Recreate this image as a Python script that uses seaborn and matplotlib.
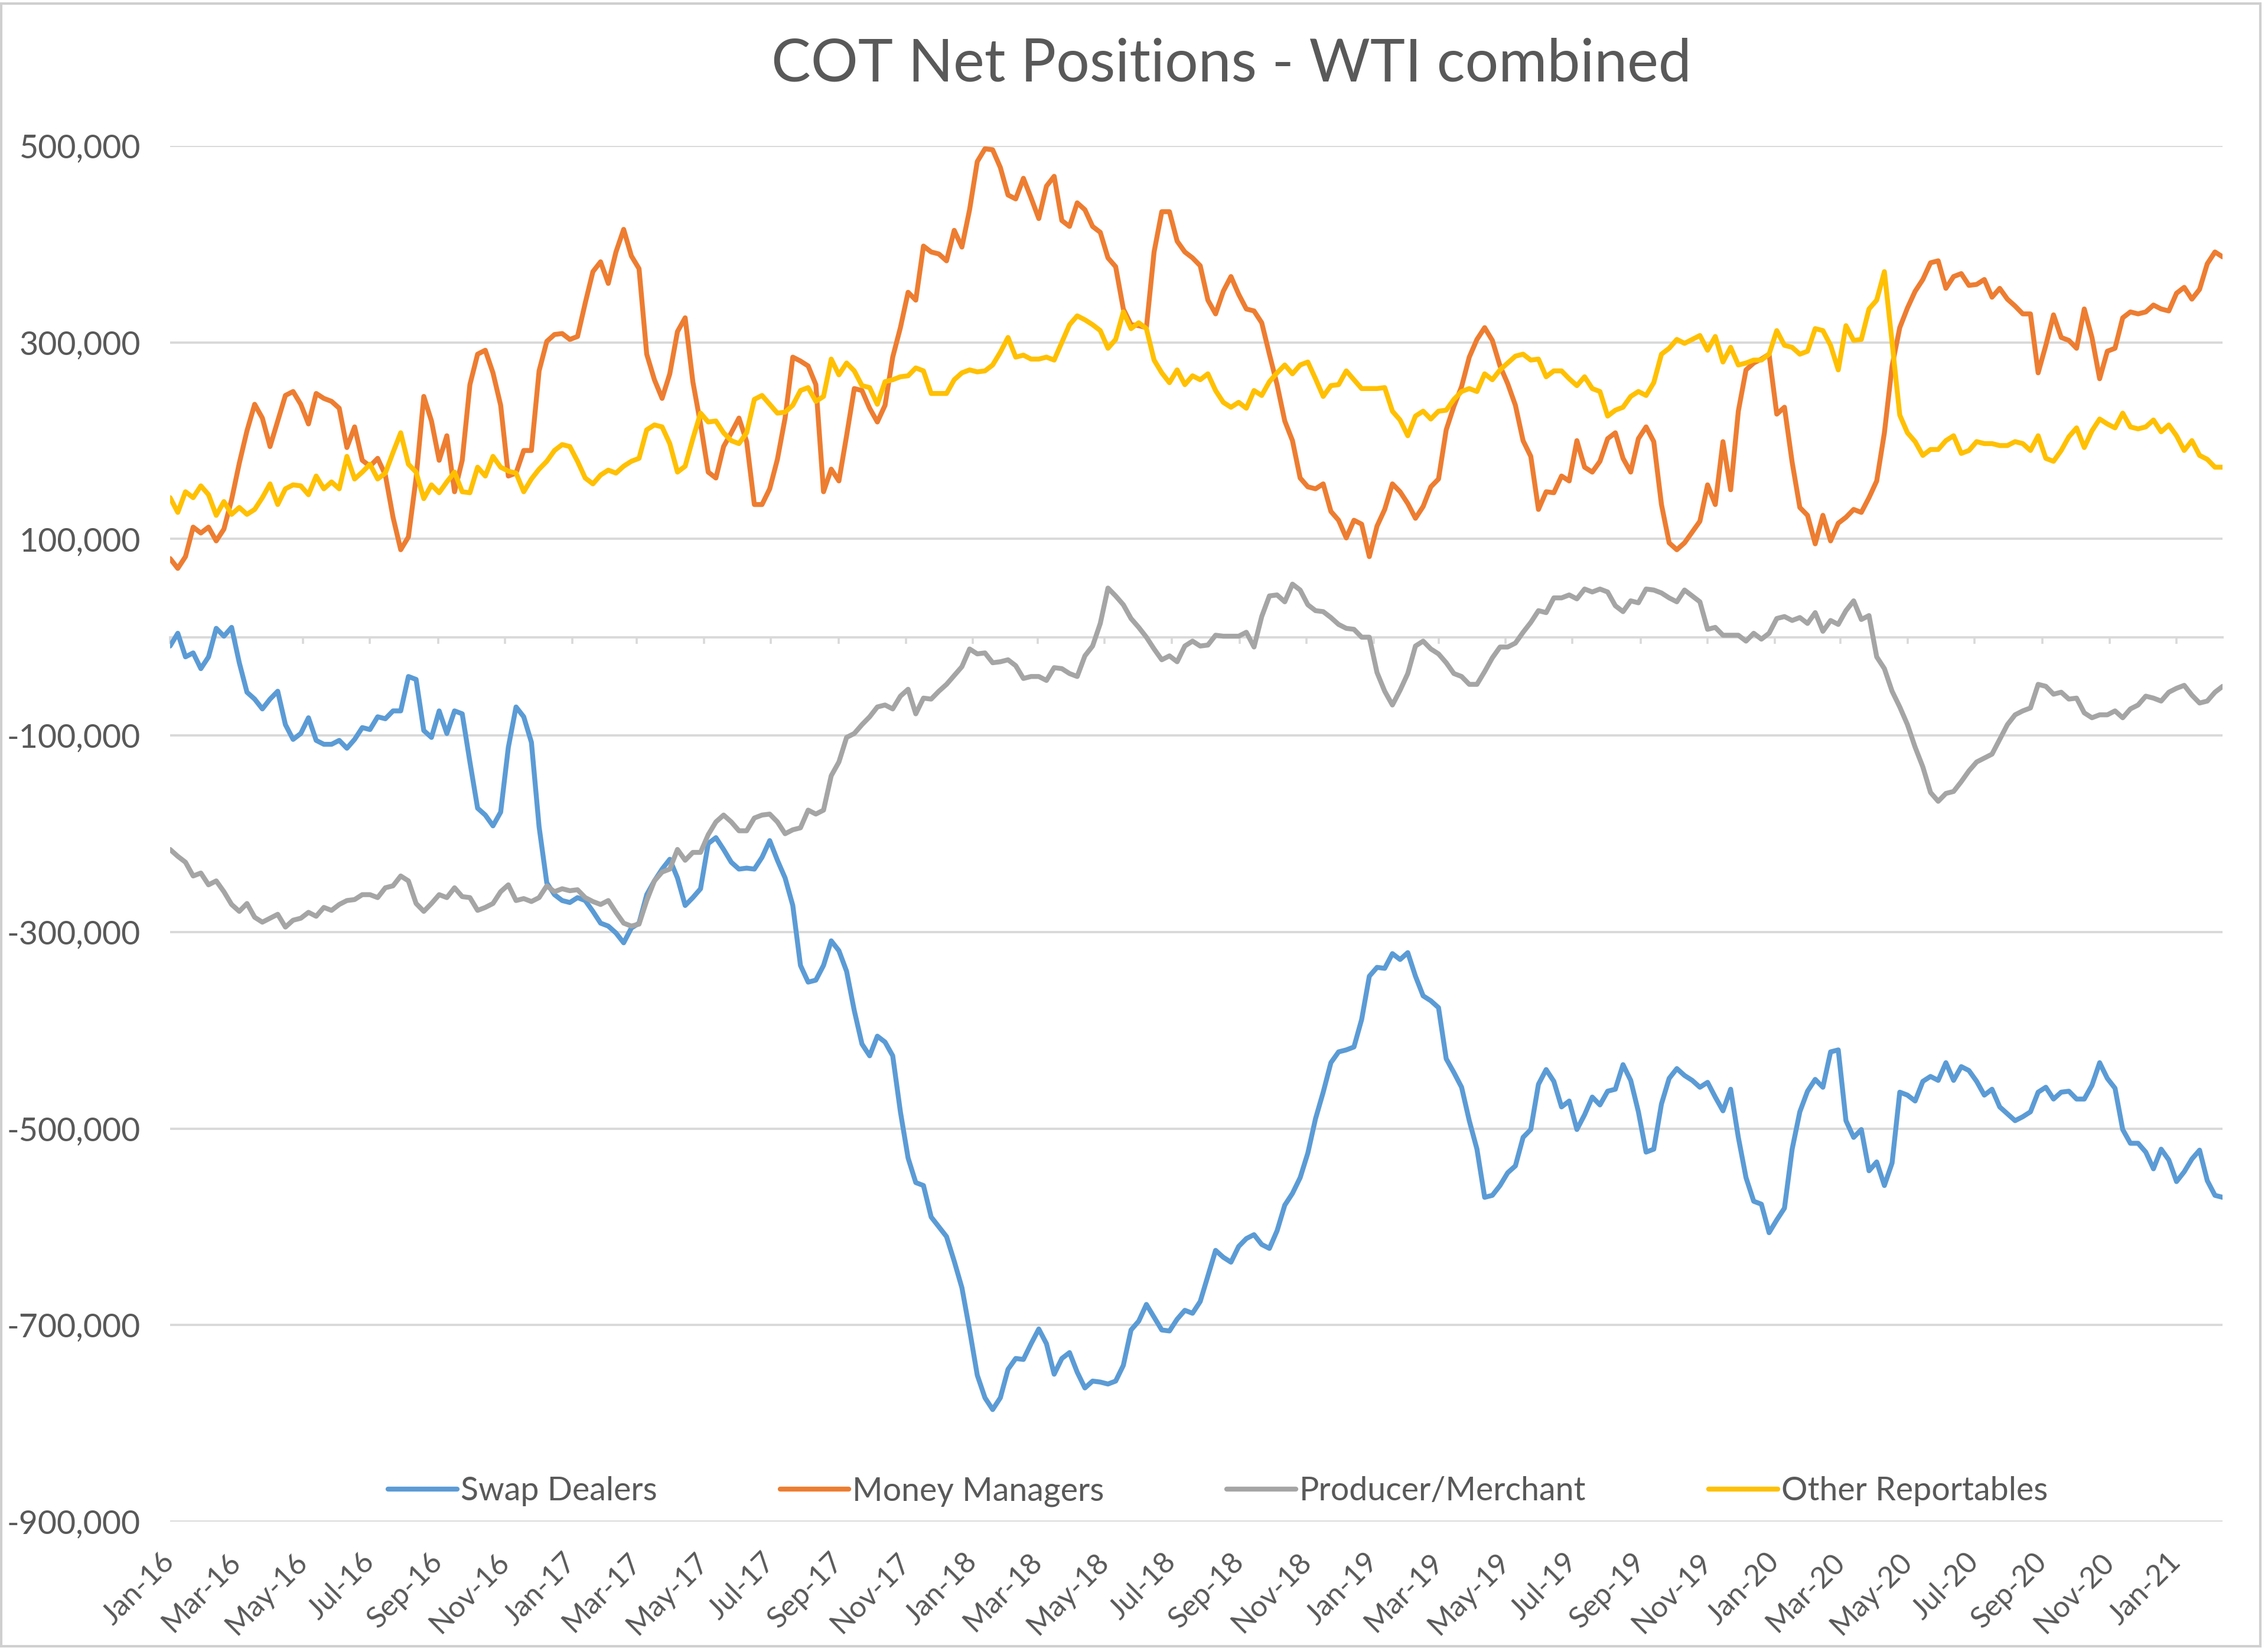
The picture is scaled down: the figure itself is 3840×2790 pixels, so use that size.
import numpy as np
import pandas as pd
import matplotlib
matplotlib.use('Agg')
import matplotlib.pyplot as plt
import matplotlib.dates as mdates
import matplotlib.ticker as mticker
from matplotlib.patches import Rectangle
import seaborn as sns

# ── DATA (weekly COT reports, net positions in thousands of contracts) ──
dates = pd.date_range('2016-01-05', periods=268, freq='7D')

series_names = ['Swap Dealers', 'Money Managers', 'Producer/Merchant', 'Other Reportables']

swap_dealers_k = [
    -9, 4, -20, -16, -32, -20, 9, 1, 10, -26, -56, -63, -73, -63, -55, -89, -104, -98, -82, -105,
    -109, -109, -105, -113, -104, -92, -94, -81, -83, -75, -75, -40, -43, -95, -102, -75, -98, -75, -78, -127,
    -174, -181, -192, -178, -112, -71, -81, -107, -193, -250, -262, -268,
    -270, -265, -268, -279, -291, -294, -301, -311, -296, -291, -262, -248, -236, -226, -245, -273, -265, -256,
    -210, -204, -216, -229, -236, -235, -236, -224, -207, -227, -245, -273, -334, -351, -349, -334, -309, -319,
    -340, -380, -414, -426, -406, -412, -426, -483, -530, -555, -558, -590, -600, -610, -635, -662, -705, -751, -774,
    -786, -774, -745, -734, -735, -719, -704, -719, -750, -734, -728, -748, -764, -757, -758, -760, -757, -741,
    -705, -696, -679, -692, -705, -706, -694, -685, -688, -676, -650, -624, -631, -636, -620, -612, -608, -618,
    -622, -604, -578, -566, -550, -525, -490, -463, -433, -422, -420, -417, -389, -345, -336, -337, -322, -328,
    -321, -345, -365, -370, -377, -429, -443, -458, -492, -521, -570, -568, -558, -545, -538, -509, -501, -455,
    -440, -452, -478, -472, -501, -486, -468, -476, -462, -460, -435, -451, -483, -524, -521, -475, -449, -439,
    -446, -451, -458, -453, -468, -482, -460, -509, -550, -574, -577, -606, -593, -581, -521, -483, -462, -450, -458,
    -422, -420, -492, -509, -501, -543, -534, -558, -535, -463, -466, -472, -452, -447, -451, -433, -451, -437,
    -441, -452, -466, -460, -478, -485, -492, -488, -483, -463, -458, -470, -463, -462, -470, -470, -456, -433,
    -449, -459, -501, -515, -515, -524, -541, -521, -532, -554, -544, -531, -522, -553, -568, -570,
]

money_managers_k = [
    80, 70, 82, 112, 106, 112, 98, 110, 140, 177, 210, 237, 223, 194, 220, 246, 250, 237, 217, 248,
    243, 240, 233, 193, 214, 180, 174, 182, 165, 122, 89, 102, 162, 245, 220, 180, 205, 148, 180, 257,
    288, 292, 269, 236, 164, 167, 190, 190, 271, 301, 308, 309,
    303, 306, 340, 372, 382, 360, 392, 415, 388, 375, 288, 262, 243, 268, 311, 325, 260, 217,
    168, 162, 194, 208, 223, 199, 135, 135, 151, 181, 223, 285, 281, 276, 257, 148, 171, 159,
    205, 253, 251, 233, 219, 236, 285, 315, 351, 343, 398, 392, 390, 383, 414, 397, 435, 484, 497,
    496, 478, 450, 446, 467, 447, 426, 459, 469, 424, 418, 442, 435, 418, 412, 386, 377, 334,
    318, 317, 315, 392, 433, 433, 403, 392, 386, 378, 343, 329, 352, 367, 349, 334, 332, 320,
    288, 257, 220, 200, 162, 153, 151, 156, 128, 119, 101, 119, 115, 82, 113, 130, 156, 148,
    136, 121, 133, 153, 161, 211, 235, 255, 285, 303, 315, 302, 276, 258, 236, 200, 184, 130,
    148, 147, 164, 159, 200, 173, 168, 179, 202, 208, 182, 168, 202, 214, 199, 135, 96, 89,
    96, 107, 118, 155, 135, 199, 150, 230, 272, 279, 283, 288, 227, 234, 178, 132, 124, 95, 124,
    98, 116, 122, 130, 127, 142, 159, 208, 276, 315, 335, 352, 364, 381, 383, 355, 367, 370,
    358, 359, 364, 346, 355, 344, 337, 329, 329, 269, 297, 328, 305, 302, 294, 334, 305, 263,
    291, 294, 325, 331, 329, 331, 338, 334, 332, 350, 356, 344, 354, 380, 392, 387,
]

producer_merchant_k = [
    -216, -223, -229, -243, -240, -252, -248, -259, -272, -279, -271, -285, -290, -286, -282, -295, -288, -286,
    -280, -284, -275, -278, -272, -268, -267, -262, -262, -265, -255, -253, -243, -248, -271, -279, -271, -262,
    -265, -255, -264, -265, -278, -275, -271, -259, -252, -268, -266, -269, -265, -253, -259, -256,
    -258, -257, -265, -269, -272, -268, -280, -291, -294, -292, -268, -248, -239, -236, -216, -227, -219, -219,
    -201, -188, -181, -188, -197, -197, -184, -181, -180, -188, -200, -196, -194, -176, -180, -176, -141, -127,
    -102, -98, -89, -81, -71, -69, -73, -60, -53, -78, -62, -63, -55, -48, -39, -30, -12, -17, -16,
    -26, -25, -23, -29, -42, -40, -40, -44, -31, -32, -37, -40, -19, -9, 14, 50, 42, 33,
    19, 10, 0, -12, -23, -19, -25, -9, -4, -9, -8, 2, 1, 1, 1, 5, -10, 21,
    42, 43, 36, 54, 48, 33, 27, 26, 20, 13, 9, 8, 0, 0, -36, -55, -69, -54,
    -37, -9, -4, -12, -17, -26, -37, -40, -48, -48, -35, -21, -10, -10, -6, 5, 15, 27,
    25, 40, 40, 43, 39, 49, 46, 49, 46, 32, 26, 37, 35, 49, 48, 45, 40, 36,
    48, 42, 36, 8, 10, 2, 2, 2, -4, 4, -2, 4, 19, 21, 17, 20, 14, 25, 6,
    17, 13, 27, 37, 18, 22, -20, -32, -55, -71, -89, -112, -132, -158, -167, -159, -157, -147,
    -136, -127, -123, -119, -104, -89, -79, -75, -72, -48, -50, -58, -56, -63, -62, -77, -82, -79,
    -79, -75, -82, -73, -69, -60, -62, -65, -56, -52, -49, -59, -67, -65, -56, -50,
]

other_reportables_k = [
    142, 127, 148, 142, 154, 145, 124, 138, 125, 132, 125, 130, 142, 156, 135, 151, 155, 154, 145, 164,
    151, 158, 151, 184, 161, 168, 176, 161, 167, 188, 208, 176, 168, 141, 155, 147, 158, 168, 148, 147,
    173, 164, 184, 173, 169, 167, 148, 161, 171, 179, 190, 196,
    194, 179, 162, 156, 165, 170, 167, 174, 179, 182, 211, 216, 214, 197, 168, 174, 202, 228,
    219, 220, 208, 200, 197, 208, 242, 246, 237, 228, 229, 236, 251, 254, 240, 245, 283, 267,
    279, 271, 256, 254, 237, 260, 262, 265, 266, 274, 271, 248, 248, 248, 262, 269, 272, 270, 271,
    277, 290, 305, 285, 287, 283, 283, 285, 282, 300, 318, 327, 323, 318, 312, 294, 303, 331,
    314, 320, 314, 282, 269, 259, 272, 257, 266, 262, 268, 251, 239, 234, 239, 233, 251, 246,
    260, 269, 277, 268, 277, 280, 263, 245, 256, 257, 271, 262, 253, 253, 253, 254, 230, 221,
    205, 225, 230, 222, 230, 231, 242, 250, 253, 250, 268, 262, 272, 279, 286, 288, 282, 283,
    265, 271, 271, 263, 256, 265, 253, 250, 225, 231, 234, 245, 250, 246, 259, 288, 294, 303,
    299, 303, 307, 292, 306, 280, 295, 277, 279, 282, 282, 288, 312, 297, 295, 288, 291, 314, 312,
    297, 272, 317, 302, 303, 334, 343, 372, 300, 226, 208, 199, 185, 191, 191, 200, 205, 187,
    190, 199, 197, 197, 195, 195, 199, 197, 190, 205, 182, 179, 190, 204, 213, 193, 210, 222,
    217, 213, 228, 214, 212, 214, 221, 209, 216, 205, 190, 200, 185, 181, 173, 173,
]

y_ticks = [-900000, -700000, -500000, -300000, -100000, 100000, 300000, 500000]

# ── STYLE ──
sns.set_theme(style='white')
plt.rcParams['font.family'] = ['Lato', 'DejaVu Sans']
plt.rcParams['lines.solid_joinstyle'] = 'round'
plt.rcParams['lines.solid_capstyle'] = 'round'

TEXT = '#595959'
GRID = '#d9d9d9'
palette = dict(zip(series_names, ['#5B9BD5', '#ED7D31', '#A5A5A5', '#FFC000']))

df = pd.DataFrame({
    'date': dates,
    'Swap Dealers': np.array(swap_dealers_k) * 1000,
    'Money Managers': np.array(money_managers_k) * 1000,
    'Producer/Merchant': np.array(producer_merchant_k) * 1000,
    'Other Reportables': np.array(other_reportables_k) * 1000,
})
long = df.melt(id_vars='date', var_name='series', value_name='net')

fig = plt.figure(figsize=(19.2, 13.95), dpi=200)
ax = fig.add_axes([0.075, 0.0767, 0.905, 0.8348])

sns.lineplot(data=long, x='date', y='net', hue='series', hue_order=series_names,
             palette=palette, linewidth=3.0, estimator=None, ax=ax)

ax.set_xlim(dates[0], dates[-1])
ax.set_ylim(-900000, 500000)
ax.set_yticks(y_ticks)
ax.yaxis.set_major_formatter(mticker.FuncFormatter(lambda v, p: f'{v:,.0f}'))
ax.yaxis.grid(True, color=GRID, linewidth=1.4)
ax.xaxis.grid(False)
ax.set_axisbelow(True)
for s in ax.spines.values():
    s.set_visible(False)
ax.set_xlabel('')
ax.set_ylabel('')

# x ticks every two months
tick_dates = pd.date_range('2016-01-01', '2021-01-01', freq='2MS') + pd.Timedelta(days=4)
ax.set_xticks(tick_dates)
ax.set_xticklabels([d.strftime('%b-%y') for d in tick_dates], rotation=45,
                   ha='right', va='center', rotation_mode='anchor')
ax.tick_params(axis='x', length=0, pad=22, labelsize=18, labelcolor=TEXT)
ax.tick_params(axis='y', length=0, pad=18, labelsize=20, labelcolor=TEXT)

# category axis line crossing at zero, with small tick marks
zero_pos = (0 - ax.get_ylim()[0]) / (ax.get_ylim()[1] - ax.get_ylim()[0])
sec = ax.secondary_xaxis(zero_pos)
sec.set_alignment('bottom')
sec.set_xticks(mdates.date2num(tick_dates))
sec.xaxis.set_major_formatter(mticker.NullFormatter())
sec.tick_params(axis='x', direction='out', length=4, width=1.3, color=GRID)
sec.spines['bottom'].set_color(GRID)
sec.spines['bottom'].set_linewidth(1.4)

# legend inside plot at bottom
handles, labels = ax.get_legend_handles_labels()
ax.legend(handles, labels, ncol=4, loc='center', bbox_to_anchor=(0.537, 0.095),
          bbox_transform=fig.transFigure, frameon=False, fontsize=20,
          handlelength=2.1, handletextpad=0.1, columnspacing=3.75, labelcolor=TEXT)

fig.text(0.543, 0.961, 'COT Net Positions - WTI combined', ha='center', va='center',
         fontsize=36, color=TEXT)

# chart area border
fig.patches.append(Rectangle((0.0005, 0.001), 0.996, 0.997, transform=fig.transFigure,
                             fill=False, edgecolor='#cfcfcf', linewidth=1.5))

plt.savefig('out.png', dpi=200)
